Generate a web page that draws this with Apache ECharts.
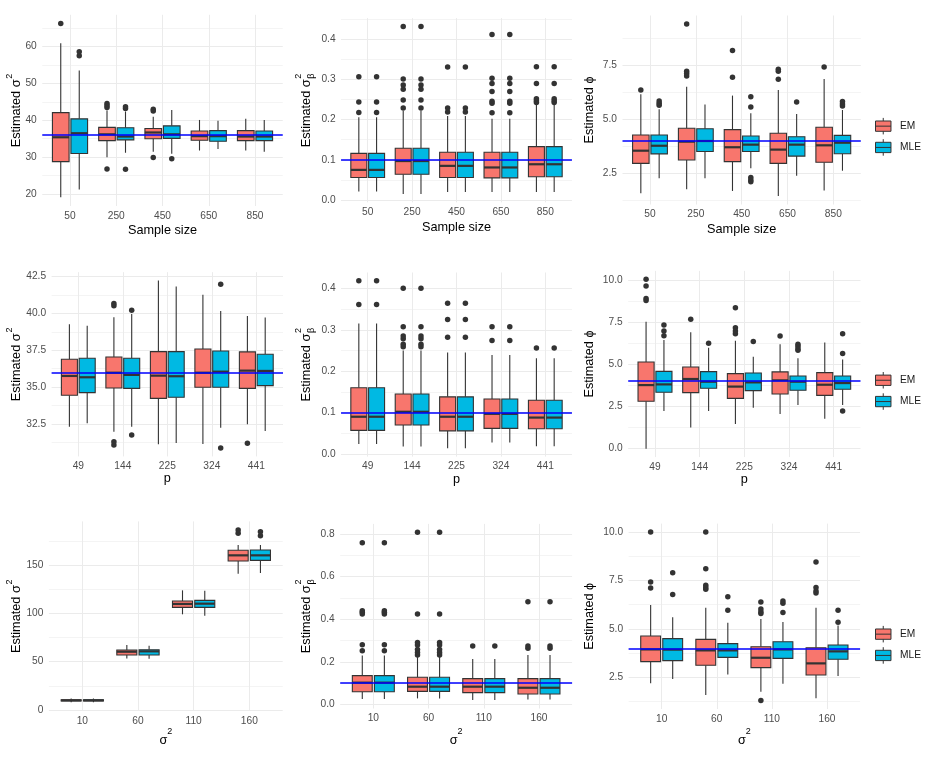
<!DOCTYPE html>
<html>
<head>
<meta charset="utf-8">
<title>EM vs MLE estimates</title>
<script src="https://cdn.jsdelivr.net/npm/echarts@6.0.0/dist/echarts.min.js"></script>
<style>
  html, body { margin: 0; padding: 0; background: #ffffff; }
  #chart { width: 926px; height: 761px; }
</style>
</head>
<body>
<div id="chart"></div>
<script>
// categories
const sampleSizes = ["50", "250", "450", "650", "850"];
const pValues = ["49", "144", "225", "324", "441"];
const sigma2Levels = ["10", "60", "110", "160"];

// true parameter values (blue reference lines)
const trueSigma2 = 36;
const trueSigmaBeta2 = 0.1;
const truePhi = 4;

// each box: [lower whisker, Q1, median, Q3, upper whisker]
const sigma2BySizeEM = [
  [19.1, 28.8, 35.4, 42.1, 60.9],
  [30.0, 34.5, 36.2, 38.1, 42.7],
  [31.5, 35.0, 36.7, 37.8, 41.0],
  [31.8, 34.6, 35.7, 37.1, 40.1],
  [31.8, 34.5, 35.6, 37.2, 40.4]
];
const sigma2BySizeMLE = [
  [21.2, 31.0, 36.5, 40.4, 53.5],
  [31.2, 34.7, 35.6, 38.0, 42.4],
  [30.9, 35.1, 36.2, 38.5, 42.8],
  [32.2, 34.3, 35.7, 37.2, 39.9],
  [31.5, 34.5, 35.6, 37.1, 40.1]
];
const sigma2BySizeOutEM = [[66.3], [26.8, 43.5, 44.0, 44.6], [29.9, 42.5, 43.0], [], []];
const sigma2BySizeOutMLE = [[57.5, 58.6], [26.7, 43.2, 43.7], [29.6], [], []];

const sigmaBeta2BySizeEM = [
  [0.021, 0.056, 0.075, 0.116, 0.206],
  [0.015, 0.064, 0.097, 0.129, 0.222],
  [0.020, 0.056, 0.085, 0.119, 0.209],
  [0.020, 0.055, 0.081, 0.119, 0.202],
  [0.020, 0.058, 0.089, 0.133, 0.238]
];
const sigmaBeta2BySizeMLE = [
  [0.021, 0.056, 0.075, 0.116, 0.206],
  [0.015, 0.064, 0.097, 0.129, 0.222],
  [0.020, 0.056, 0.085, 0.119, 0.209],
  [0.020, 0.055, 0.081, 0.119, 0.202],
  [0.020, 0.058, 0.089, 0.133, 0.238]
];
const sigmaBeta2BySizeOutEM = [
  [0.218, 0.244, 0.307],
  [0.229, 0.249, 0.276, 0.286, 0.301, 0.432],
  [0.219, 0.229, 0.331],
  [0.217, 0.241, 0.246, 0.270, 0.290, 0.303, 0.412],
  [0.243, 0.247, 0.252, 0.290, 0.332]
];
const sigmaBeta2BySizeOutMLE = [
  [0.218, 0.244, 0.307],
  [0.229, 0.249, 0.276, 0.286, 0.301, 0.432],
  [0.219, 0.229, 0.331],
  [0.217, 0.241, 0.246, 0.270, 0.290, 0.303, 0.412],
  [0.243, 0.247, 0.252, 0.290, 0.332]
];

const phiBySizeEM = [
  [1.57, 2.96, 3.55, 4.28, 6.17],
  [1.76, 3.12, 3.97, 4.59, 6.52],
  [1.68, 3.04, 3.71, 4.53, 6.11],
  [1.45, 2.96, 3.60, 4.36, 6.37],
  [1.70, 3.01, 3.80, 4.64, 6.88]
];
const phiBySizeMLE = [
  [2.27, 3.40, 3.78, 4.28, 5.47],
  [2.27, 3.51, 4.00, 4.57, 5.70],
  [2.73, 3.51, 3.83, 4.23, 5.29],
  [2.39, 3.30, 3.83, 4.20, 5.26],
  [2.62, 3.41, 3.92, 4.26, 5.44]
];
const phiBySizeOutEM = [[6.37], [7.02, 7.14, 7.24, 9.43], [6.96, 8.20], [6.87, 7.24, 7.33], [7.44]];
const phiBySizeOutMLE = [[5.66, 5.75, 5.86], [], [2.11, 2.19, 2.30, 5.58, 6.05], [5.81], [5.63, 5.72, 5.83]];

const sigma2ByPEM = [
  [32.32, 34.45, 35.76, 36.89, 39.26],
  [31.98, 34.94, 35.98, 37.05, 39.74],
  [31.12, 34.24, 35.78, 37.41, 42.23],
  [31.14, 34.99, 35.98, 37.59, 41.26],
  [32.48, 34.92, 36.12, 37.39, 39.83]
];
const sigma2ByPMLE = [
  [32.55, 34.63, 35.67, 36.96, 39.17],
  [32.32, 34.92, 35.83, 36.96, 39.97],
  [31.21, 34.31, 35.74, 37.41, 41.82],
  [32.25, 34.99, 36.05, 37.45, 40.17],
  [32.03, 35.10, 36.10, 37.23, 39.72]
];
const sigma2ByPOutEM = [[], [31.07, 31.30, 40.53, 40.67], [], [], [31.19]];
const sigma2ByPOutMLE = [[], [31.75, 40.21], [], [30.87, 41.98], []];

const sigmaBeta2ByPEM = [
  [0.024, 0.057, 0.090, 0.160, 0.315],
  [0.018, 0.070, 0.102, 0.145, 0.250],
  [0.014, 0.056, 0.090, 0.138, 0.245],
  [0.028, 0.062, 0.097, 0.133, 0.239],
  [0.019, 0.061, 0.088, 0.130, 0.231]
];
const sigmaBeta2ByPMLE = [
  [0.024, 0.057, 0.090, 0.160, 0.315],
  [0.018, 0.070, 0.102, 0.145, 0.250],
  [0.014, 0.056, 0.090, 0.138, 0.245],
  [0.028, 0.062, 0.097, 0.133, 0.239],
  [0.019, 0.061, 0.088, 0.130, 0.231]
];
const sigmaBeta2ByPOutEM = [[0.361, 0.418], [0.259, 0.265, 0.278, 0.285, 0.307, 0.400], [0.282, 0.325, 0.364], [0.274, 0.307], [0.256]];
const sigmaBeta2ByPOutMLE = [[0.361, 0.418], [0.259, 0.265, 0.278, 0.285, 0.307, 0.400], [0.282, 0.325, 0.364], [0.274, 0.307], [0.256]];

const phiByPEM = [
  [0.00, 2.81, 3.77, 5.14, 7.53],
  [1.26, 3.32, 4.13, 4.84, 6.90],
  [1.46, 2.98, 3.68, 4.45, 6.40],
  [2.06, 3.24, 4.05, 4.55, 6.19],
  [1.78, 3.16, 3.79, 4.51, 6.30]
];
const phiByPMLE = [
  [2.23, 3.34, 3.81, 4.58, 6.45],
  [2.23, 3.58, 3.97, 4.57, 5.99],
  [2.43, 3.44, 3.93, 4.49, 5.45],
  [2.59, 3.46, 3.97, 4.31, 5.36],
  [2.59, 3.52, 3.89, 4.31, 5.28]
];
const phiByPOutEM = [[8.79, 8.91, 9.64, 10.04], [7.67], [6.82, 6.98, 7.17, 8.36], [6.68], []];
const phiByPOutMLE = [[6.70, 6.98, 7.33], [6.25], [6.36], [5.83, 5.93, 6.07, 6.19], [2.23, 5.65, 6.82]];

const sigma2BySigma2EM = [
  [8.0, 9.3, 10.0, 10.7, 12.0],
  [53.4, 56.9, 60.3, 62.1, 67.2],
  [99.0, 106.2, 109.7, 112.8, 123.8],
  [141.0, 154.1, 160.0, 165.2, 170.7]
];
const sigma2BySigma2MLE = [
  [8.0, 9.3, 10.0, 10.7, 12.0],
  [53.1, 56.9, 60.7, 62.4, 66.6],
  [97.6, 106.2, 110.0, 113.4, 123.4],
  [141.7, 154.8, 160.0, 165.5, 170.7]
];
const sigma2BySigma2OutEM = [[], [], [], [182.8, 186.2]];
const sigma2BySigma2OutMLE = [[], [], [], [180.3, 184.5]];

const sigmaBeta2BySigma2EM = [
  [0.025, 0.059, 0.102, 0.135, 0.229],
  [0.028, 0.061, 0.083, 0.127, 0.222],
  [0.020, 0.055, 0.083, 0.121, 0.213],
  [0.023, 0.049, 0.078, 0.121, 0.232]
];
const sigmaBeta2BySigma2MLE = [
  [0.025, 0.059, 0.102, 0.135, 0.229],
  [0.028, 0.061, 0.083, 0.127, 0.222],
  [0.020, 0.055, 0.083, 0.121, 0.213],
  [0.023, 0.049, 0.078, 0.121, 0.232]
];
const sigmaBeta2BySigma2OutEM = [[0.252, 0.280, 0.424, 0.432, 0.440, 0.759], [0.232, 0.244, 0.258, 0.279, 0.290, 0.424, 0.808], [0.274], [0.263, 0.274, 0.482]];
const sigmaBeta2BySigma2OutMLE = [[0.252, 0.280, 0.424, 0.432, 0.440, 0.759], [0.232, 0.244, 0.258, 0.279, 0.290, 0.424, 0.808], [0.274], [0.263, 0.274, 0.482]];

const phiBySigma2EM = [
  [2.19, 3.31, 3.94, 4.63, 6.23],
  [1.59, 3.12, 3.89, 4.46, 6.09],
  [1.76, 3.00, 3.51, 4.08, 5.51],
  [1.42, 2.62, 3.22, 4.03, 6.09]
];
const phiBySigma2MLE = [
  [2.41, 3.36, 3.93, 4.50, 5.60],
  [2.65, 3.53, 3.89, 4.24, 5.32],
  [2.17, 3.48, 3.94, 4.34, 5.36],
  [2.57, 3.43, 3.84, 4.17, 5.17]
];
const phiBySigma2OutEM = [[7.11, 7.42, 10.0], [7.04, 7.14, 7.25, 8.11, 10.0], [1.30, 5.80, 5.89, 6.03, 6.39], [6.85, 6.96, 7.14, 8.45]];
const phiBySigma2OutMLE = [[6.77, 7.90], [5.96, 6.66], [5.84, 6.32, 6.44], [5.34, 5.96]];

// ---- look ----
const FONT = '"Liberation Sans", Arial, Helvetica, sans-serif';
const EM_FILL = "#F8766D";
const MLE_FILL = "#00B9E3";
const INK = "#333333";
const GRID_MAJOR = "#EBEBEB";
const GRID_MINOR = "#F4F4F4";
const TICK_COLOR = "#4D4D4D";
const TITLE_SIZE = 12.7;
const TICK_SIZE = 10.2;
const SCRIPT_SIZE = 9;
const DODGE = 0.2;
const BOX_HALF = 0.18;
const KEY_ICON = "path://M37.5,0L37.5,15M0,15L75,15L75,65L0,65ZM0,40L75,40M37.5,65L37.5,80";

// layout: [left, top, right, bottom] of each plot panel
const panels = [
  { cats: sampleSizes, em: sigma2BySizeEM, mle: sigma2BySizeMLE, emOut: sigma2BySizeOutEM, mleOut: sigma2BySizeOutMLE,
    truth: trueSigma2, major: 10, minor: 5, digits: 0, yName: "s2", xName: "Sample size",
    box: [42.25, 14.77, 282.75, 206.0], titleX: 16.3, nameGap: 18.3 },
  { cats: sampleSizes, em: sigmaBeta2BySizeEM, mle: sigmaBeta2BySizeMLE, emOut: sigmaBeta2BySizeOutEM, mleOut: sigmaBeta2BySizeOutMLE,
    truth: trueSigmaBeta2, major: 0.1, minor: 0.05, digits: 1, yName: "sb2", xName: "Sample size",
    box: [341.06, 18.1, 571.94, 202.35], titleX: 306.0, nameGap: 18.3 },
  { cats: sampleSizes, em: phiBySizeEM, mle: phiBySizeMLE, emOut: phiBySizeOutEM, mleOut: phiBySizeOutMLE,
    truth: truePhi, major: 2.5, minor: 1.25, digits: 1, yName: "phi", xName: "Sample size",
    box: [622.5, 15.5, 860.8, 204.5], titleX: 589.6, nameGap: 18.3 },
  { cats: pValues, em: sigma2ByPEM, mle: sigma2ByPMLE, emOut: sigma2ByPOutEM, mleOut: sigma2ByPOutMLE,
    truth: trueSigma2, major: 2.5, minor: 1.25, digits: 1, yName: "s2", xName: "p",
    box: [51.6, 272.2, 283.0, 456.4], titleX: 16.3, nameGap: 15.5 },
  { cats: pValues, em: sigmaBeta2ByPEM, mle: sigmaBeta2ByPMLE, emOut: sigmaBeta2ByPOutEM, mleOut: sigmaBeta2ByPOutMLE,
    truth: trueSigmaBeta2, major: 0.1, minor: 0.05, digits: 1, yName: "sb2", xName: "p",
    box: [341.06, 272.5, 571.94, 456.6], titleX: 306.0, nameGap: 15.5 },
  { cats: pValues, em: phiByPEM, mle: phiByPMLE, emOut: phiByPOutEM, mleOut: phiByPOutMLE,
    truth: truePhi, major: 2.5, minor: 1.25, digits: 1, yName: "phi", xName: "p",
    box: [628.2, 270.9, 860.5, 457.1], titleX: 589.6, nameGap: 15.5 },
  { cats: sigma2Levels, em: sigma2BySigma2EM, mle: sigma2BySigma2MLE, emOut: sigma2BySigma2OutEM, mleOut: sigma2BySigma2OutMLE,
    truth: null, major: 50, minor: 25, digits: 0, yName: "s2", xName: "sigma2",
    box: [48.9, 521.4, 282.7, 710.9], titleX: 16.3, nameGap: 16.4 },
  { cats: sigma2Levels, em: sigmaBeta2BySigma2EM, mle: sigmaBeta2BySigma2MLE, emOut: sigmaBeta2BySigma2OutEM, mleOut: sigmaBeta2BySigma2OutMLE,
    truth: trueSigmaBeta2, major: 0.2, minor: 0.1, digits: 1, yName: "sb2", xName: "sigma2",
    box: [340.2, 523.9, 572.1, 708.5], titleX: 306.0, nameGap: 18.2 },
  { cats: sigma2Levels, em: phiBySigma2EM, mle: phiBySigma2MLE, emOut: phiBySigma2OutEM, mleOut: phiBySigma2OutMLE,
    truth: truePhi, major: 2.5, minor: 1.25, digits: 1, yName: "phi", xName: "sigma2",
    box: [628.6, 523.6, 860.1, 709.0], titleX: 589.6, nameGap: 18.0 }
];
const legendTops = [117.4, 371.5, 625.4];

const measureCtx = document.createElement("canvas").getContext("2d");
function textWidth(text, size) {
  measureCtx.font = size + "px " + FONT;
  return measureCtx.measureText(text).width;
}

function isMultiple(value, step) {
  const k = value / step;
  return Math.abs(k - Math.round(k)) < 1e-6;
}

function valueRange(p) {
  const all = [];
  [p.em, p.mle].forEach((rows) => rows.forEach((s) => all.push(s[0], s[4])));
  [p.emOut, p.mleOut].forEach((rows) => rows.forEach((o) => all.push(...o)));
  if (p.truth != null) all.push(p.truth);
  const lo = Math.min(...all);
  const hi = Math.max(...all);
  const pad = (hi - lo) * 0.05;
  return [lo - pad, hi + pad];
}

function renderBox(params, api) {
  const x = api.value(0);
  const lo = api.coord([x, api.value(1)]);
  const q1 = api.coord([x + BOX_HALF, api.value(2)]);
  const med = api.coord([x, api.value(3)]);
  const q3 = api.coord([x - BOX_HALF, api.value(4)]);
  const hi = api.coord([x, api.value(5)]);
  const left = q3[0];
  const right = q1[0];
  return {
    type: "group",
    children: [
      { type: "line", shape: { x1: hi[0], y1: hi[1], x2: hi[0], y2: q3[1] }, style: { stroke: INK, lineWidth: 1.1 } },
      { type: "line", shape: { x1: lo[0], y1: q1[1], x2: lo[0], y2: lo[1] }, style: { stroke: INK, lineWidth: 1.1 } },
      {
        type: "rect",
        shape: { x: left, y: q3[1], width: right - left, height: q1[1] - q3[1] },
        style: { fill: api.visual("color"), stroke: INK, lineWidth: 1.1 }
      },
      { type: "line", shape: { x1: left, y1: med[1], x2: right, y2: med[1] }, style: { stroke: INK, lineWidth: 2.2 } }
    ]
  };
}

function yTitle(p, cy) {
  const main = "Estimated " + (p.yName === "phi" ? "ϕ" : "σ");
  const mainW = textWidth(main, TITLE_SIZE);
  const hasScript = p.yName !== "phi";
  const scriptW = hasScript ? textWidth(p.yName === "sb2" ? "β" : "2", SCRIPT_SIZE) + 1 : 0;
  const x0 = -(mainW + scriptW) / 2;
  const base = { fontFamily: FONT, fill: "#000000", align: "left", verticalAlign: "middle" };
  const children = [{ type: "text", x: x0, y: 0, style: { ...base, text: main, fontSize: TITLE_SIZE } }];
  if (hasScript) {
    children.push({ type: "text", x: x0 + mainW + 0.8, y: -7, style: { ...base, text: "2", fontSize: SCRIPT_SIZE } });
  }
  if (p.yName === "sb2") {
    children.push({ type: "text", x: x0 + mainW + 0.8, y: 5.5, style: { ...base, text: "β", fontSize: SCRIPT_SIZE } });
  }
  return { type: "group", x: p.titleX, y: cy, rotation: Math.PI / 2, silent: true, children };
}

const option = {
  animation: false,
  backgroundColor: "#ffffff",
  textStyle: { fontFamily: FONT },
  grid: [],
  xAxis: [],
  yAxis: [],
  series: [],
  legend: [],
  graphic: []
};

panels.forEach((p, k) => {
  const [left, top, right, bottom] = p.box;
  const [yMin, yMax] = valueRange(p);
  const n = p.cats.length;
  option.grid.push({ left, top, width: right - left, height: bottom - top, containLabel: false });

  const xName = p.xName === "sigma2" ? "{m|σ}{s|2}" : p.xName;
  option.xAxis.push({
    type: "value",
    gridIndex: k,
    min: -0.6,
    max: n - 0.4,
    minInterval: 1,
    maxInterval: 1,
    name: xName,
    nameLocation: "middle",
    nameGap: p.nameGap,
    nameTextStyle: {
      color: "#000000",
      fontSize: TITLE_SIZE,
      rich: {
        m: { fontSize: TITLE_SIZE, lineHeight: 20, verticalAlign: "bottom", color: "#000000" },
        s: { fontSize: SCRIPT_SIZE, lineHeight: 10, verticalAlign: "top", color: "#000000" }
      }
    },
    axisLine: { show: false },
    axisTick: { show: false },
    axisLabel: {
      color: TICK_COLOR,
      fontSize: TICK_SIZE,
      margin: 5,
      formatter: (v) => (isMultiple(v, 1) && v > -0.5 && v < n - 0.5 ? p.cats[Math.round(v)] : "")
    },
    splitLine: { show: true, showMinLine: false, showMaxLine: false, lineStyle: { color: GRID_MAJOR, width: 1 } }
  });

  const firstTick = Math.ceil(yMin / p.minor - 1e-9) * p.minor;
  const colors = isMultiple(firstTick, p.major) ? [GRID_MAJOR, GRID_MINOR] : [GRID_MINOR, GRID_MAJOR];
  option.yAxis.push({
    type: "value",
    gridIndex: k,
    min: yMin,
    max: yMax,
    minInterval: p.minor,
    maxInterval: p.minor,
    axisLine: { show: false },
    axisTick: { show: false },
    axisLabel: {
      color: TICK_COLOR,
      fontSize: TICK_SIZE,
      margin: 5.5,
      showMinLabel: false,
      showMaxLabel: false,
      formatter: (v) => (isMultiple(v, p.major) ? v.toFixed(p.digits) : "")
    },
    splitLine: { show: true, showMinLine: false, showMaxLine: false, lineStyle: { color: colors, width: 1 } }
  });

  const groups = [
    { name: "EM", fill: EM_FILL, boxes: p.em, outs: p.emOut, shift: -DODGE },
    { name: "MLE", fill: MLE_FILL, boxes: p.mle, outs: p.mleOut, shift: DODGE }
  ];
  groups.forEach((g, gi) => {
    const series = {
      type: "custom",
      name: g.name,
      xAxisIndex: k,
      yAxisIndex: k,
      silent: true,
      itemStyle: { color: g.fill },
      encode: { x: 0, y: [1, 2, 3, 4, 5] },
      renderItem: renderBox,
      data: g.boxes.map((s, i) => [i + g.shift, ...s])
    };
    if (gi === 1 && p.truth != null) {
      series.markLine = {
        silent: true,
        symbol: "none",
        label: { show: false },
        lineStyle: { color: "#0000FF", width: 1.5, type: "solid", opacity: 1 },
        emphasis: { disabled: true },
        data: [{ yAxis: p.truth }]
      };
    }
    option.series.push(series);
  });
  groups.forEach((g) => {
    const pts = [];
    g.outs.forEach((vals, i) => vals.forEach((v) => pts.push([i + g.shift, v])));
    option.series.push({
      type: "scatter",
      name: g.name,
      xAxisIndex: k,
      yAxisIndex: k,
      silent: true,
      symbol: "circle",
      symbolSize: 5.5,
      itemStyle: { color: INK, opacity: 1 },
      data: pts
    });
  });

  option.graphic.push(yTitle(p, (top + bottom) / 2));
});

legendTops.forEach((top) => {
  option.legend.push({
    orient: "vertical",
    left: 875,
    top,
    padding: 0,
    itemWidth: 15.5,
    itemHeight: 16.5,
    itemGap: 3.8,
    selectedMode: false,
    itemStyle: { borderColor: INK, borderWidth: 1 },
    textStyle: { color: "#1A1A1A", fontSize: TICK_SIZE, padding: [0, 0, 0, 4] },
    data: [
      { name: "EM", icon: KEY_ICON },
      { name: "MLE", icon: KEY_ICON }
    ]
  });
});

const chart = echarts.init(document.getElementById("chart"), null, { renderer: "canvas" });
chart.setOption(option);
</script>
</body>
</html>
